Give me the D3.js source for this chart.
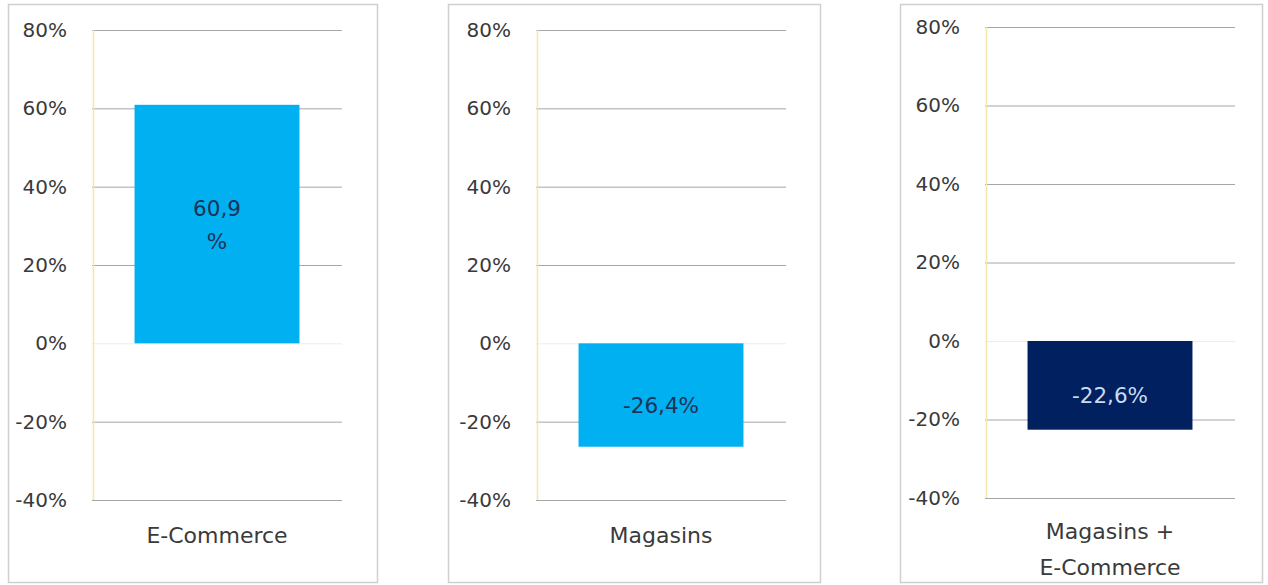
<!DOCTYPE html>
<html>
<head>
<meta charset="utf-8">
<script src="https://cdn.jsdelivr.net/npm/d3@7"></script>
<style>
  body { margin: 0; background: #fff; }
  svg { display: block; }
  text { font-family: "DejaVu Sans", sans-serif; fill: #3a3a3a; }
  .tick text { font-size: 20px; }
  .cat-label { font-size: 22px; }
  .val-label { font-size: 21.5px; }
</style>
</head>
<body>
<svg width="1268" height="585"></svg>
<script>
// data
const categories = [["E-Commerce"], ["Magasins"], ["Magasins +", "E-Commerce"]];
const values = [60.9, -26.4, -22.6];
const valueLabels = [["60,9", "%"], ["-26,4%"], ["-22,6%"]];
const tickValues = [80, 60, 40, 20, 0, -20, -40];

const barColors = ["#00b0f0", "#00b0f0", "#002060"];
const valueColors = ["#1a3358", "#1a3358", "#c9dbf2"];

// panel boxes + plot areas (pixels)
const panels = [
    { x: 8,   w: 369, plotLeft: 92,  top: 30, bottom: 500 },
    { x: 448, w: 372, plotLeft: 536, top: 30, bottom: 500 },
    { x: 900, w: 362, plotLeft: 985, top: 27, bottom: 498 }
];
const plotW = 250;

const svg = d3.select('svg');

const drawPanel = (i) => {
    const p = panels[i];
    const g = svg.append('g');

    // outer frame
    g.append('rect')
        .attr('x', p.x + 0.5).attr('y', 4.5)
        .attr('width', p.w).attr('height', 578)
        .attr('fill', '#fff')
        .attr('stroke', '#cfcfcf')
        .attr('stroke-width', 1.5);

    const yScale = d3.scaleLinear()
        .domain([-40, 80])
        .range([p.bottom, p.top]);

    const xScale = d3.scaleBand()
        .domain([categories[i].join(' ')])
        .range([p.plotLeft, p.plotLeft + plotW])
        .padding(0.205);

    const yAxis = d3.axisLeft(yScale)
        .tickValues(tickValues)
        .tickFormat(d => d + '%')
        .tickSize(-plotW)
        .tickPadding(25);

    const yAxisG = g.append('g')
        .attr('transform', `translate(${p.plotLeft},0)`)
        .call(yAxis);
    yAxisG.select('.domain').remove();
    yAxisG.selectAll('.tick line')
        .attr('stroke', d => d === 0 ? '#ececec' : '#a6a6a6')
        .attr('stroke-width', 1);
    yAxisG.selectAll('.tick text').attr('fill', '#3a3a3a');

    // pale yellow vertical axis
    g.append('line')
        .attr('x1', p.plotLeft + 1.5).attr('x2', p.plotLeft + 1.5)
        .attr('y1', p.top).attr('y2', p.bottom)
        .attr('stroke', '#f2e8a8')
        .attr('stroke-width', 1.5);

    const key = categories[i].join(' ');
    const v = values[i];

    g.append('rect')
        .attr('x', xScale(key))
        .attr('y', yScale(Math.max(0, v)))
        .attr('width', xScale.bandwidth())
        .attr('height', Math.abs(yScale(v) - yScale(0)))
        .attr('fill', barColors[i]);

    // value label inside the bar (sits a bit low on negative bars, like the original)
    const cx = xScale(key) + xScale.bandwidth() / 2;
    const cy = (yScale(v) + yScale(0)) / 2 + (v < 0 ? 10 : 0);
    const lines = valueLabels[i];
    const lh = 33;
    g.append('text')
        .attr('class', 'val-label')
        .attr('text-anchor', 'middle')
        .style('fill', valueColors[i])
        .selectAll('tspan').data(lines).enter().append('tspan')
        .attr('x', cx)
        .attr('y', (d, j) => cy + (j - (lines.length - 1) / 2) * lh + 8)
        .text(d => d);

    // category label under the plot
    const cat = categories[i];
    g.append('text')
        .attr('class', 'cat-label')
        .attr('text-anchor', 'middle')
        .selectAll('tspan').data(cat).enter().append('tspan')
        .attr('x', cx)
        .attr('y', (d, j) => (cat.length > 1 ? 539 : 543) + j * 36)
        .text(d => d);
};

categories.forEach((c, i) => drawPanel(i));
</script>
</body>
</html>
